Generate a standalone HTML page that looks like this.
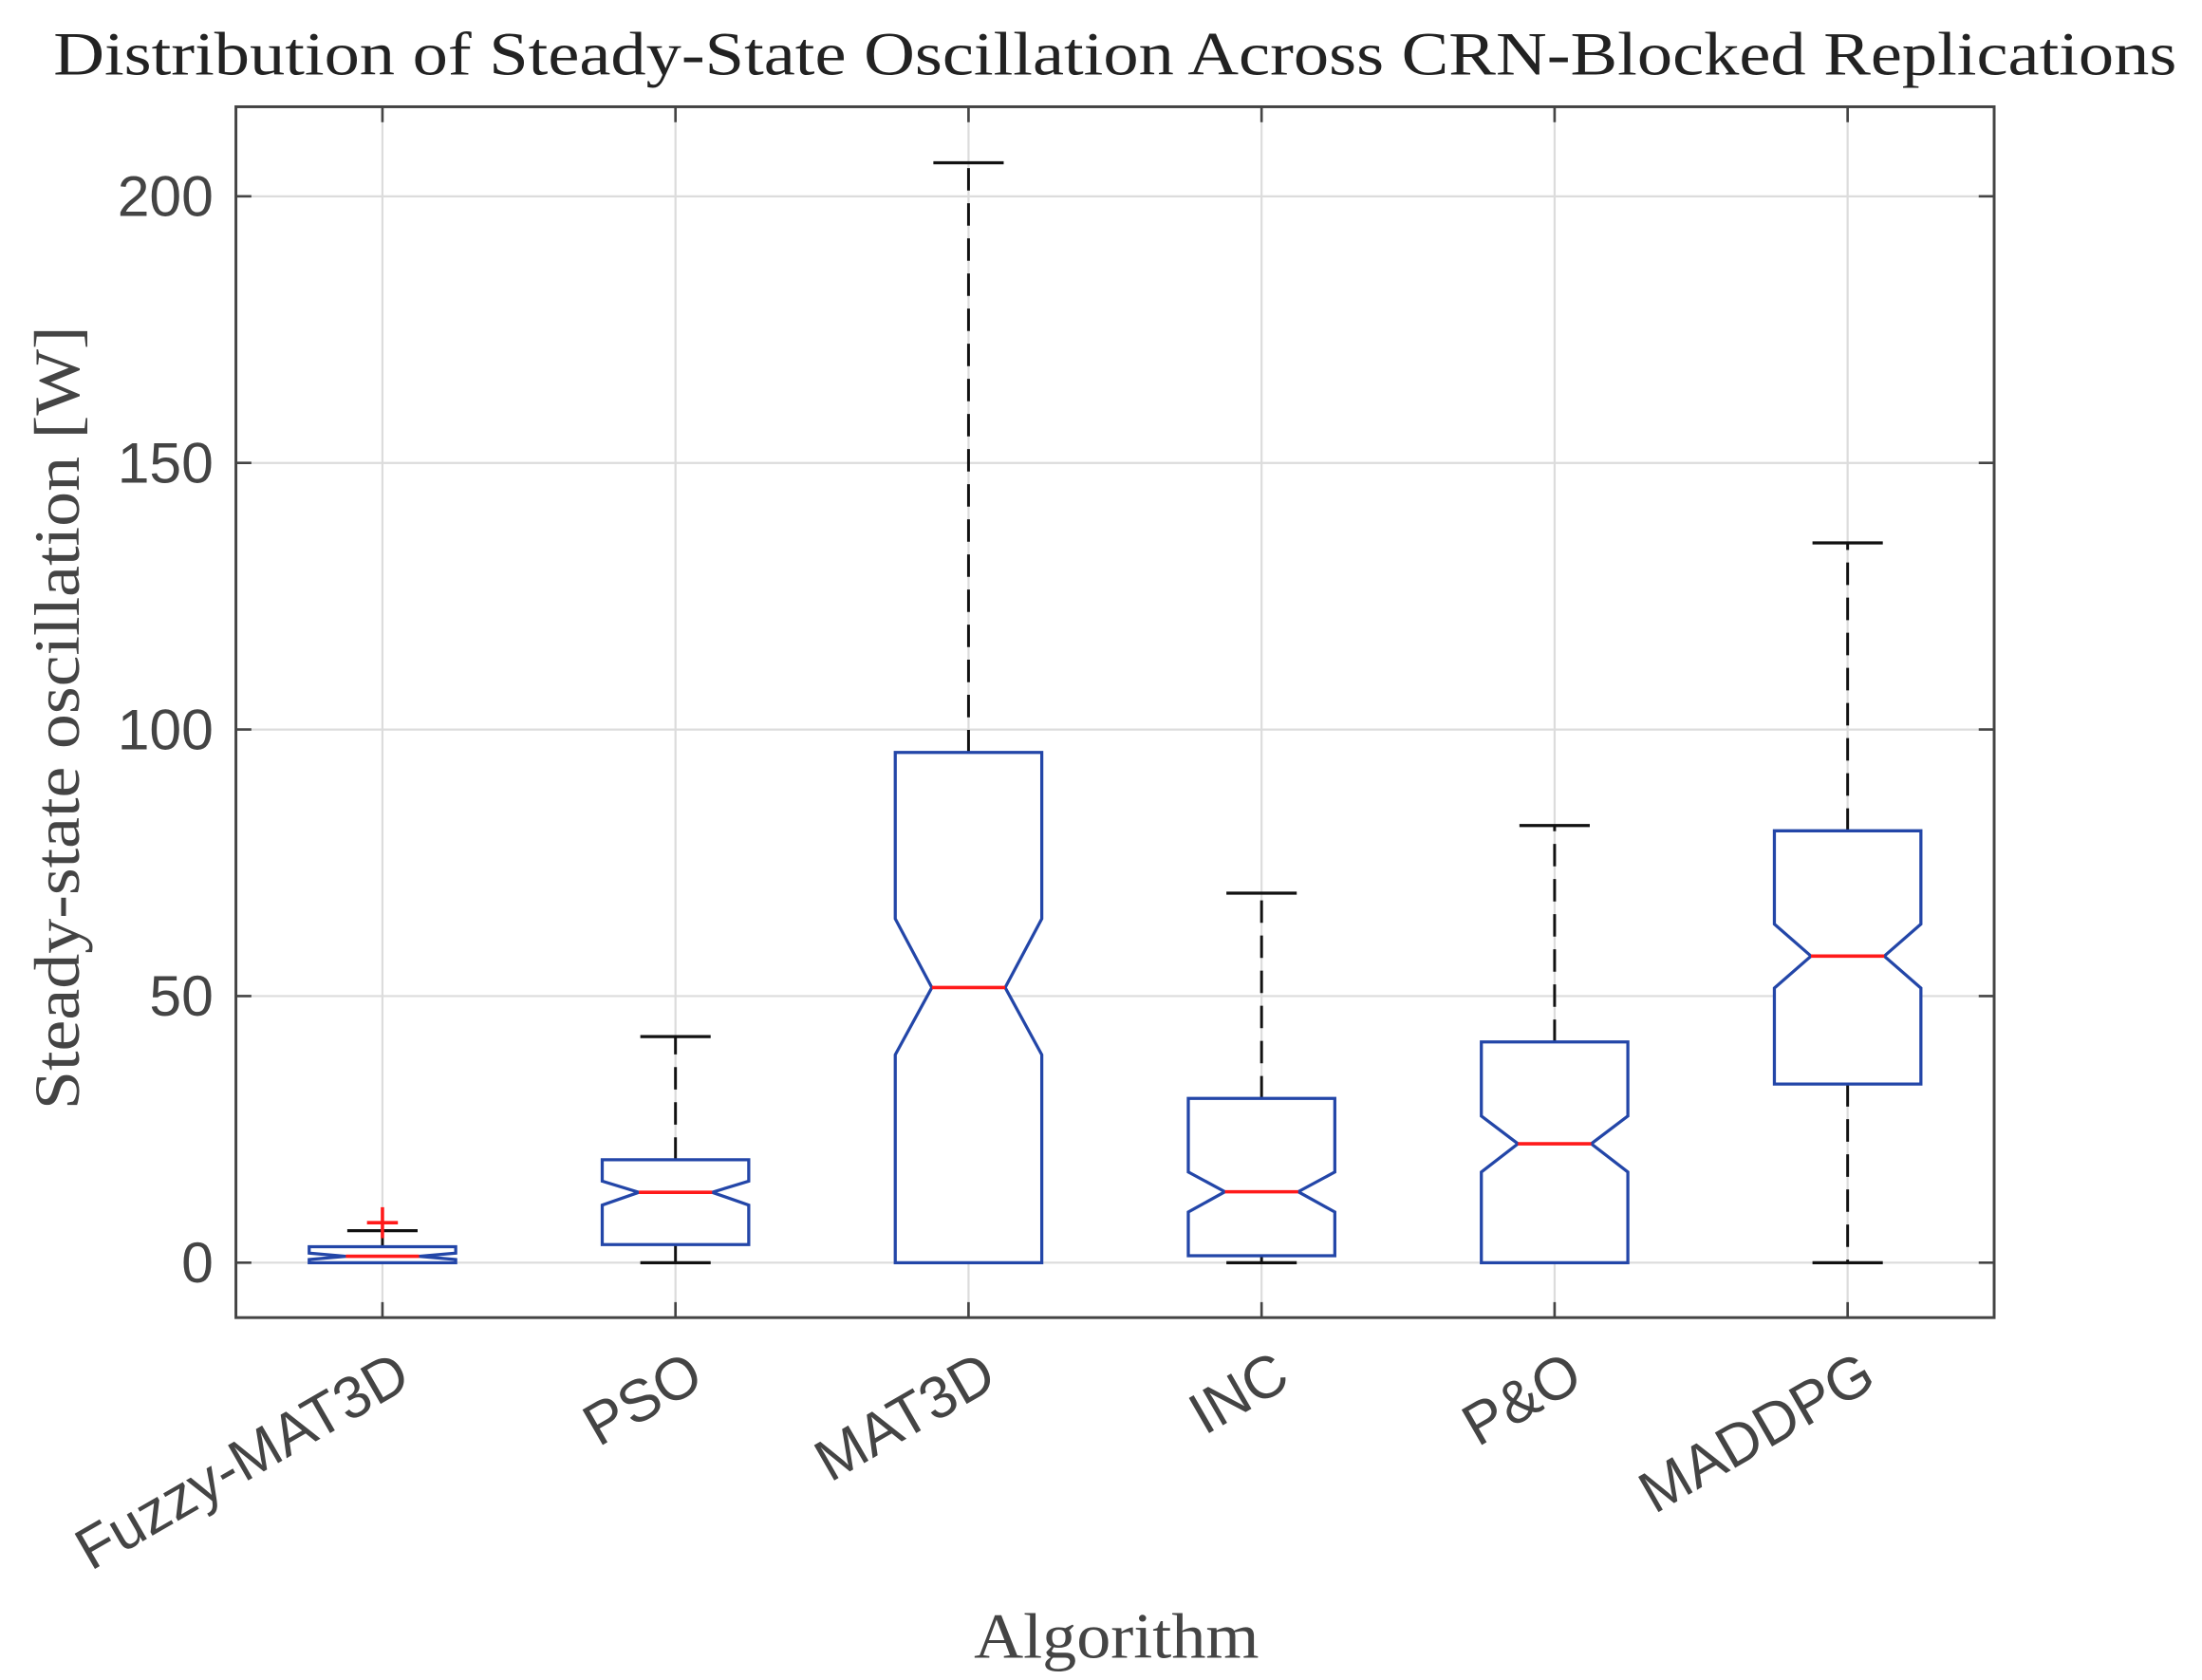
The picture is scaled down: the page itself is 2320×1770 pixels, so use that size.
<!DOCTYPE html>
<html><head><meta charset="utf-8"><style>
html,body{margin:0;padding:0;background:#fff;}
svg{display:block;}
</style></head><body>
<svg id="chart" width="2320" height="1770" viewBox="0 0 1568 1196" preserveAspectRatio="none" xmlns="http://www.w3.org/2000/svg">
<rect width="1568" height="1196" fill="#fff"/>
<g id="grid"></g>
<g id="boxes"></g>
<g id="axes"></g>
<text x="794" y="53" text-anchor="middle" font-family="Liberation Serif, serif" font-size="44" textLength="1512" lengthAdjust="spacingAndGlyphs" fill="#222">Distribution of Steady-State Oscillation Across CRN-Blocked Replications</text>
<text transform="translate(56,511) rotate(-90)" text-anchor="middle" font-family="Liberation Serif, serif" font-size="46" textLength="558" lengthAdjust="spacingAndGlyphs" fill="#444">Steady-state oscillation [W]</text>
<text x="795" y="1180" text-anchor="middle" font-family="Liberation Serif, serif" font-size="46" textLength="203" lengthAdjust="spacingAndGlyphs" fill="#444">Algorithm</text>
</svg>
<script>
const categories = ["Fuzzy-MAT3D","PSO","MAT3D","INC","P&O","MADDPG"];
const q1 = [0, 3.4, 0, 1.3, 0, 33.5];
const q3 = [3, 19.3, 95.7, 30.8, 41.4, 81];
const medians = [1.2, 13.2, 51.6, 13.3, 22.3, 57.5];
const notchLo = [0.6, 10.8, 39, 9.5, 17, 51.5];
const notchHi = [1.8, 15.3, 64.5, 17, 27.5, 63.5];
const whiskLo = [0, 0, 0, 0, 0, 0];
const whiskHi = [6, 42.4, 206.3, 69.3, 82, 135];
const outliers = [[7.5], [], [], [], [], []];
const yTicks = [0, 50, 100, 150, 200];

const L=168,R=1420,T=76,B=938, yMin=-10.3, yMax=216.8;
const xs = i => L + (i+1-0.5)/6*(R-L);
const ys = v => B - (v-yMin)/(yMax-yMin)*(B-T);
const ux = (R-L)/6;
const NS="http://www.w3.org/2000/svg";
function mk(parent,tag,attrs){const e=document.createElementNS(NS,tag);for(const k in attrs)e.setAttribute(k,attrs[k]);document.getElementById(parent).appendChild(e);return e;}

yTicks.forEach(t=>{
  const g=mk('grid','line',{x1:L,x2:R,y1:ys(t),y2:ys(t),stroke:'#dcdcdc','stroke-width':1.5});
  
  
  mk('axes','line',{x1:L,x2:L+11,y1:ys(t),y2:ys(t),stroke:'#444','stroke-width':1.8});
  mk('axes','line',{x1:R,x2:R-11,y1:ys(t),y2:ys(t),stroke:'#444','stroke-width':1.8});
  const tx=mk('axes','text',{x:L-16,y:ys(t)+14,'text-anchor':'end','font-family':'Liberation Sans, sans-serif','font-size':41,fill:'#444'});
  tx.textContent=t;
  
  
});
categories.forEach((c,i)=>{
  const x=xs(i);
  const g=mk('grid','line',{x1:x,x2:x,y1:T,y2:B,stroke:'#dcdcdc','stroke-width':1.5});
  
  
  mk('axes','line',{x1:x,x2:x,y1:B,y2:B-11,stroke:'#444','stroke-width':1.8});
  mk('axes','line',{x1:x,x2:x,y1:T,y2:T+11,stroke:'#444','stroke-width':1.8});
  const tx=mk('axes','text',{transform:`translate(${x+22},${986}) rotate(-30)`,'text-anchor':'end','font-family':'Liberation Sans, sans-serif','font-size':42,fill:'#444'});
  tx.textContent=c;
  
  

  const hw=0.25*ux, nw=0.125*ux, cw=0.12*ux;
  const w1=mk('boxes','line',{x1:x,x2:x,y1:ys(q3[i]),y2:ys(whiskHi[i]),stroke:'#111','stroke-width':2,'stroke-dasharray':'16,9'});
  
  
  const w2=mk('boxes','line',{x1:x,x2:x,y1:ys(q1[i]),y2:ys(whiskLo[i]),stroke:'#111','stroke-width':2,'stroke-dasharray':'16,9'});
  
  
  mk('boxes','line',{x1:x-cw,x2:x+cw,y1:ys(whiskHi[i]),y2:ys(whiskHi[i]),stroke:'#111','stroke-width':2.2});
  mk('boxes','line',{x1:x-cw,x2:x+cw,y1:ys(whiskLo[i]),y2:ys(whiskLo[i]),stroke:'#111','stroke-width':2.2});
  const pts=[[x-hw,ys(q1[i])],[x-hw,ys(notchLo[i])],[x-nw,ys(medians[i])],[x-hw,ys(notchHi[i])],[x-hw,ys(q3[i])],
             [x+hw,ys(q3[i])],[x+hw,ys(notchHi[i])],[x+nw,ys(medians[i])],[x+hw,ys(notchLo[i])],[x+hw,ys(q1[i])]];
  const bx=mk('boxes','polygon',{points:pts.map(p=>p.join(',')).join(' '),fill:'#fff',stroke:'#2346a8','stroke-width':2.2});
  
  
  const md=mk('boxes','line',{x1:x-nw,x2:x+nw,y1:ys(medians[i]),y2:ys(medians[i]),stroke:'#ff1a1a','stroke-width':2.4});
  
  
  outliers[i].forEach(o=>{
    const oy=ys(o);
    const p=mk('boxes','path',{d:`M${x-11},${oy}H${x+11}M${x},${oy-11}V${oy+11}`,stroke:'#ff1a1a','stroke-width':2.4,fill:'none'});
    
    
  });
});
const fr=mk('axes','rect',{x:L,y:T,width:R-L,height:B-T,fill:'none',stroke:'#444','stroke-width':2});


</script>
</body></html>
